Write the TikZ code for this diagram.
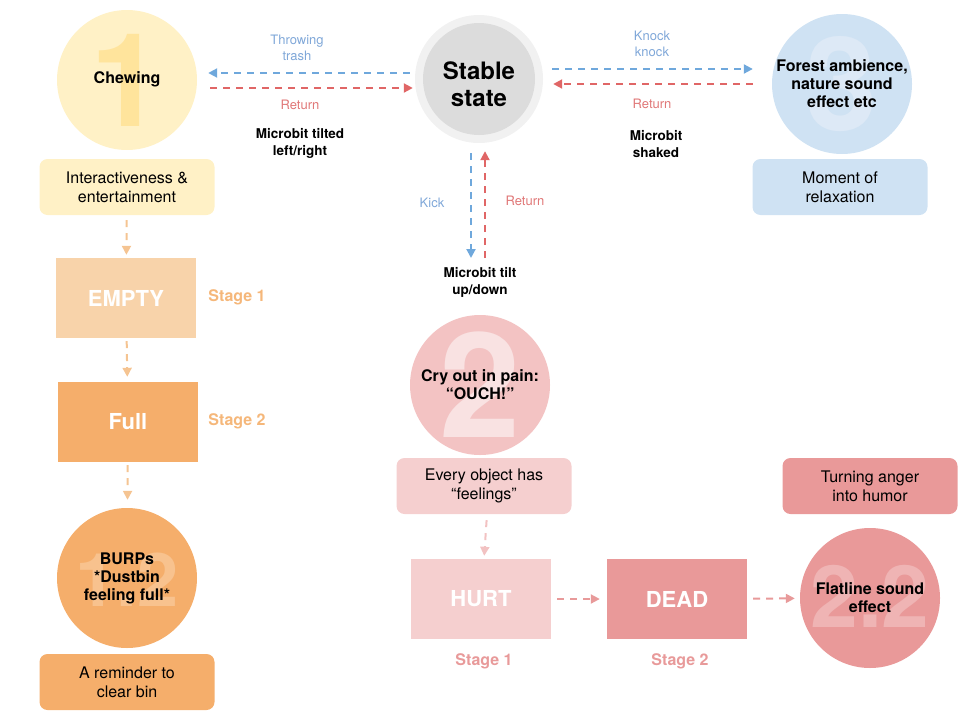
\documentclass[tikz,border=0pt]{standalone}
\usepackage{fontspec}
\setmainfont{TeX Gyre Heros}
\usetikzlibrary{positioning,arrows.meta}
\definecolor{yellowsoft}{HTML}{FFF1C6}
\definecolor{yellownum}{HTML}{FFE49C}
\definecolor{orangesoft}{HTML}{F8D3AA}
\definecolor{orangemain}{HTML}{F5AE6B}
\definecolor{orangenum}{HTML}{F8C28E}
\definecolor{orangetext}{HTML}{F5B77A}
\definecolor{orangeline}{HTML}{F5C492}
\definecolor{grayouter}{HTML}{F1F1F1}
\definecolor{grayinner}{HTML}{DCDCDC}
\definecolor{bluesoft}{HTML}{CFE2F3}
\definecolor{bluenum}{HTML}{DDE9F6}
\definecolor{blueline}{HTML}{6FA8DC}
\definecolor{bluetext}{HTML}{7FA7D8}
\definecolor{redline}{HTML}{E06666}
\definecolor{redtext}{HTML}{E07777}
\definecolor{pinksoft}{HTML}{F3C3C3}
\definecolor{pinkbox}{HTML}{F5CFCF}
\definecolor{pinknum}{HTML}{F9E2E2}
\definecolor{pinkline}{HTML}{F2C2C2}
\definecolor{rosemain}{HTML}{E99999}
\definecolor{rosenum}{HTML}{EFB4B4}
\definecolor{rosetext}{HTML}{E89A9A}

\begin{document}
\begin{tikzpicture}[
    x=1pt, y=-1pt,
    every node/.style={font=\fontsize{16}{19}\selectfont},
    bubble/.style={
        circle,
        minimum size=140pt,
        inner sep=0pt,
        align=center,
        font=\bfseries\fontsize{16}{18}\selectfont
    },
    bignum/.style={font=\bfseries\fontsize{#1}{#1}\selectfont},
    notebox/.style={
        rounded corners=8pt,
        minimum width=175pt,
        minimum height=56pt,
        align=center
    },
    stagebox/.style={
        minimum width=140pt,
        minimum height=80pt,
        text=white,
        font=\bfseries\fontsize{22}{24}\selectfont
    },
    stagelabel/.style={font=\bfseries\fontsize{16}{18}\selectfont},
    cue/.style={align=center, font=\fontsize{13}{16}\selectfont},
    trigger/.style={align=center, font=\bfseries\fontsize{13.5}{17}\selectfont},
    flow/.style={
        line width=2pt,
        dash pattern=on 7pt off 6pt,
        -{Triangle[length=9pt,width=9pt]}
    }
]
\useasboundingbox (0,0) rectangle (960,720);

% centre state
\node[bubble, fill=grayouter, minimum size=128pt] (stable) at (479,79) {};
\node[bubble, fill=grayinner, minimum size=112pt] (stablein) at (479,79) {};
\node[align=center, font=\bfseries\fontsize{24}{27}\selectfont] (stabletxt) at (479,84) {Stable\\state};

% branch 1: dustbin
\node[bubble, fill=yellowsoft,
      path picture={\node[bignum=130, text=yellownum] at (path picture bounding box.center) {1};}]
      (chew) at (127,80) {\strut Chewing};
\node[notebox, fill=yellowsoft] (fun) at (127,187) {Interactiveness \&\\entertainment};
\node[stagebox, fill=orangesoft] (empty) at (126,298) {EMPTY};
\node[stagebox, fill=orangemain] (full) at (128,422) {Full};
\node[stagelabel, text=orangetext] at (237,297) {Stage 1};
\node[stagelabel, text=orangetext] at (237,421) {Stage 2};
\node[bubble, fill=orangemain,
      path picture={\node[bignum=74, text=orangenum] at ([yshift=-2pt]path picture bounding box.center) {1.2};}]
      (burp) at (127,578) {BURPs\\*Dustbin\\feeling full*};
\node[notebox, fill=orangemain] (remind) at (127,682) {A reminder to\\clear bin};

% branch 3: relaxation
\node[bubble, fill=bluesoft,
      path picture={\node[bignum=130, text=bluenum] at (path picture bounding box.center) {3};}]
      (forest) at (842,84) {Forest ambience,\\nature sound\\effect etc};
\node[notebox, fill=bluesoft] (relax) at (840,187) {Moment of\\relaxation};

% branch 2: kick
\node[bubble, fill=pinksoft,
      path picture={\node[bignum=146, text=pinknum] at (path picture bounding box.center) {2};}]
      (ouch) at (480,385) {Cry out in pain:\\“OUCH!”};
\node[notebox, fill=pinkbox] (feel) at (484,486) {Every object has\\“feelings”};
\node[stagebox, fill=pinkbox] (hurt) at (481,599) {HURT};
\node[stagebox, fill=rosemain] (dead) at (677,599) {DEAD};
\node[stagelabel, text=rosetext] at (484,661) {Stage 1};
\node[stagelabel, text=rosetext] at (680,661) {Stage 2};
\node[bubble, fill=rosemain,
      path picture={\node[bignum=86, text=rosenum] at ([yshift=2pt]path picture bounding box.center) {2.2};}]
      (flat) at (870,598) {Flatline sound\\effect};
\node[notebox, fill=rosemain] (humor) at (870,486) {Turning anger\\into humor};

% cue labels
\node[cue, text=bluetext] at (297,48) {Throwing\\trash};
\node[cue, text=redtext] at (300,105) {Return};
\node[trigger] at (300,143) {Microbit tilted\\left/right};
\node[cue, text=bluetext] at (652,44) {Knock\\knock};
\node[cue, text=redtext] at (652,104) {Return};
\node[trigger] at (656,144) {Microbit\\shaked};
\node[cue, text=bluetext] at (432,203) {Kick};
\node[cue, text=redtext] at (525,201) {Return};
\node[trigger] at (480,282) {Microbit tilt\\up/down};

\coordinate (kick) at (471,258);
\coordinate (kickback) at (485,258);

% connectors
\draw[flow, blueline] ([xshift=-5pt,yshift=6pt]stable.west) -- ([xshift=11pt,yshift=7pt]chew.east);
\draw[flow, redline] ([xshift=13pt,yshift=-8pt]chew.east) -- ([xshift=-2pt,yshift=-9pt]stable.west);
\draw[flow, blueline] ([xshift=9pt,yshift=10pt]stable.east) -- ([xshift=-19pt,yshift=15pt]forest.west);
\draw[flow, redline] ([xshift=-19pt,yshift=0pt]forest.west) -- ([xshift=10pt,yshift=-5pt]stable.east);
\draw[flow, blueline] ([xshift=-8pt,yshift=-10pt]stable.south) -- (kick);
\draw[flow, redline] (kickback) -- ([xshift=6pt,yshift=-8pt]stable.south);

\draw[flow, orangeline, shorten <=5pt, shorten >=3pt] (fun) -- (empty);
\draw[flow, orangeline, shorten <=3pt, shorten >=5pt] (empty) -- (full);
\draw[flow, orangeline, shorten <=3pt, shorten >=8pt] (full) -- (burp);
\draw[flow, pinkline, shorten <=6pt, shorten >=3pt] ([xshift=3pt]feel.south) -- ([xshift=3pt]hurt.north);
\draw[flow, rosetext, shorten <=6pt, shorten >=7pt] (hurt) -- (dead);
\draw[flow, rosetext, shorten <=6pt, shorten >=5pt] (dead) -- (flat);
\end{tikzpicture}
\end{document}
